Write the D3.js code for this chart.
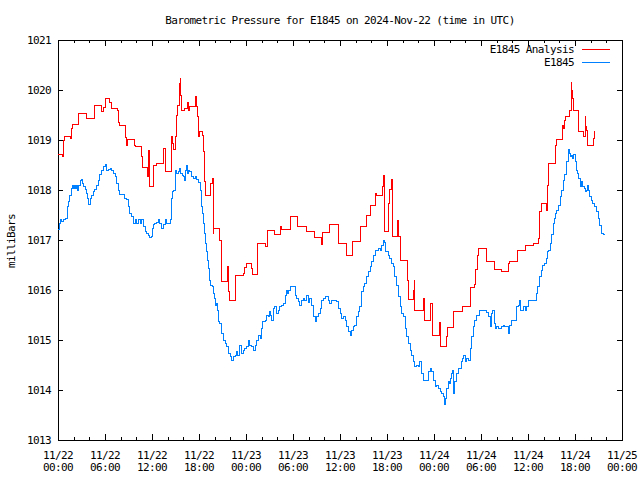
<!DOCTYPE html>
<html><head><meta charset="utf-8">
<script src="https://cdn.jsdelivr.net/npm/d3@7"></script>
<style>
html,body{margin:0;padding:0;background:#fff;}
text{font-family:"DejaVu Sans Mono",monospace;font-size:11px;letter-spacing:-0.6px;fill:#000;}
</style></head><body>
<svg id="chart" width="640" height="480"></svg>
<script>
const title = "Barometric Pressure for E1845 on 2024-Nov-22 (time in UTC)";
const yLabel = "milliBars";
const seriesNames = ["E1845 Analysis", "E1845"];
const seriesColors = ["#ff0000", "#0080ff"];
const startTime = Date.UTC(2024, 10, 22, 0, 0);
const endTime = Date.UTC(2024, 10, 25, 0, 0);
const yTicks = [1013, 1014, 1015, 1016, 1017, 1018, 1019, 1020, 1021];

// Red: analysis (hours since 11/22 00:00 UTC, mb), step series
const redHours = [0.00,0.55,0.68,0.81,1.57,1.74,1.83,2.60,3.66,4.64,5.57,5.79,6.09,6.55,6.77,7.62,7.74,7.83,8.60,8.77,8.89,9.74,9.83,10.68,10.77,11.40,11.53,11.62,11.74,12.13,12.60,13.53,13.66,13.74,14.43,14.51,14.60,14.77,15.02,15.15,15.28,15.45,15.53,15.62,15.66,15.74,16.21,16.55,16.64,16.85,17.49,17.66,17.83,17.91,18.00,18.47,18.60,18.72,18.85,19.49,19.57,19.66,19.79,19.87,20.64,20.81,20.89,21.62,21.74,21.83,22.60,22.68,23.66,23.79,24.04,24.64,24.81,25.45,26.55,26.72,27.70,28.43,28.55,29.62,30.60,31.66,32.72,33.62,33.74,34.64,35.79,36.77,37.62,38.68,39.40,39.91,40.47,40.68,41.45,41.53,41.66,42.17,42.38,42.55,42.72,43.40,43.50,43.74,44.60,44.72,45.36,45.45,45.55,46.64,46.77,47.58,47.83,48.68,48.77,49.62,49.70,50.55,51.66,52.68,53.19,53.36,53.57,53.66,54.64,55.70,56.64,57.57,57.70,58.68,59.74,60.68,61.32,61.45,61.53,61.66,62.38,62.51,62.59,63.57,63.66,64.38,64.42,64.51,64.64,64.77,65.36,65.49,65.57,65.66,65.79,65.87,66.51,67.06,67.28,67.36,67.49,67.62,68.34,68.47,68.55];
const redValues = [1018.72,1018.68,1019.00,1019.08,1019.03,1019.23,1019.31,1019.53,1019.43,1019.70,1019.58,1019.65,1019.83,1019.75,1019.63,1019.59,1019.35,1019.30,1019.05,1018.90,1019.01,1018.90,1018.88,1018.67,1018.45,1018.27,1018.79,1018.63,1018.08,1018.50,1018.53,1018.83,1018.57,1018.37,1018.53,1019.07,1018.93,1018.82,1019.07,1019.50,1019.70,1019.93,1020.13,1020.23,1019.90,1019.59,1019.63,1019.75,1019.59,1019.68,1019.87,1019.67,1019.47,1019.07,1019.17,1019.10,1018.77,1018.17,1017.90,1018.13,1018.13,1018.23,1017.13,1017.23,1016.99,1016.41,1016.17,1016.48,1015.97,1015.80,1016.08,1016.30,1016.33,1016.45,1016.53,1016.43,1016.31,1016.93,1016.87,1017.19,1017.12,1017.27,1017.21,1017.47,1017.28,1017.18,1017.05,1016.92,1017.15,1017.32,1016.93,1016.70,1016.97,1017.27,1017.50,1017.70,1017.93,1017.89,1018.07,1018.30,1017.17,1017.73,1018.01,1018.22,1017.07,1017.40,1017.07,1016.60,1016.20,1015.81,1016.00,1016.20,1015.60,1015.83,1015.40,1015.73,1015.10,1015.35,1014.88,1015.07,1015.25,1015.57,1015.68,1016.05,1016.12,1016.41,1016.70,1016.83,1016.57,1016.41,1016.38,1016.53,1016.57,1016.79,1016.89,1016.93,1017.03,1017.27,1017.57,1017.73,1017.60,1018.10,1018.53,1018.90,1019.01,1019.20,1019.30,1019.23,1019.40,1019.48,1019.60,1020.15,1020.00,1019.83,1019.75,1019.59,1019.17,1019.08,1019.47,1019.27,1019.20,1018.90,1019.03,1019.18,1019.18];

// Blue: station observations (hours since 11/22 00:00 UTC, mb)
const blueHours = [0.00,0.13,0.26,0.47,0.68,0.98,1.15,1.23,1.40,1.53,1.66,1.74,1.83,1.96,2.09,2.26,2.38,2.51,2.60,2.81,2.94,3.11,3.28,3.45,3.66,3.79,3.87,4.09,4.30,4.51,4.72,4.94,5.15,5.36,5.57,5.79,6.00,6.21,6.43,6.64,6.85,7.06,7.28,7.49,7.70,7.91,8.34,8.55,8.77,8.98,9.19,9.40,9.62,9.83,10.04,10.26,10.47,10.68,10.89,11.11,11.32,11.53,11.74,11.96,12.04,12.17,12.38,12.60,12.81,13.02,13.23,13.45,13.66,13.87,14.30,14.43,14.51,14.60,14.72,14.94,15.06,15.19,15.36,15.53,15.70,15.87,16.00,16.13,16.30,16.43,16.55,16.72,16.85,17.06,17.28,17.49,17.70,17.91,18.13,18.26,18.34,18.43,18.55,18.68,18.85,18.98,19.11,19.19,19.28,19.40,19.53,19.70,19.83,19.96,20.13,20.26,20.38,20.47,20.55,20.68,20.81,20.89,21.11,21.32,21.53,21.74,21.96,22.17,22.38,22.60,22.81,22.94,23.11,23.23,23.45,23.66,23.87,24.09,24.30,24.51,24.72,24.94,25.15,25.36,25.57,25.79,26.00,26.13,26.43,26.64,26.85,26.98,27.15,27.28,27.49,27.70,27.91,28.13,28.34,28.55,28.77,28.98,29.11,29.28,29.40,29.62,29.83,30.04,30.26,30.47,30.68,30.89,31.11,31.32,31.53,31.74,31.96,32.17,32.38,32.60,32.81,33.02,33.23,33.45,33.66,33.87,34.09,34.30,34.51,34.72,34.94,35.15,35.36,35.57,35.79,36.00,36.21,36.43,36.64,36.85,37.06,37.28,37.49,37.70,37.91,38.13,38.34,38.55,38.77,38.98,39.19,39.40,39.62,39.83,40.04,40.26,40.47,40.68,40.89,41.11,41.32,41.53,41.66,41.87,42.17,42.38,42.60,42.81,43.02,43.23,43.45,43.66,43.87,44.09,44.30,44.51,44.72,44.94,45.15,45.36,45.57,45.79,46.00,46.21,46.43,46.64,46.98,47.28,47.49,47.70,47.91,48.13,48.34,48.55,48.77,48.98,49.19,49.32,49.45,49.62,49.83,49.96,50.13,50.26,50.38,50.55,50.68,50.89,51.11,51.32,51.53,51.66,51.74,51.96,52.17,52.38,52.60,52.81,53.02,53.23,53.45,53.87,54.30,54.72,54.94,55.15,55.36,55.49,55.66,55.79,56.00,56.21,56.43,56.64,56.85,57.06,57.28,57.49,57.57,57.70,57.91,58.34,58.55,58.77,58.89,59.02,59.19,59.40,59.62,59.83,60.04,60.89,61.11,61.23,61.45,61.53,61.66,61.87,62.17,62.30,62.47,62.60,62.81,63.02,63.23,63.36,63.49,63.66,63.87,64.09,64.30,64.51,64.72,64.94,65.15,65.28,65.45,65.57,65.70,65.87,66.00,66.13,66.30,66.43,66.64,66.72,66.85,66.98,67.15,67.28,67.49,67.62,67.74,67.91,68.13,68.26,68.43,68.55,68.77,68.98,69.19,69.32,69.62,69.83];
const blueValues = [1017.21,1017.33,1017.41,1017.37,1017.41,1017.43,1017.53,1017.67,1017.77,1017.90,1017.95,1018.03,1018.10,1018.03,1018.10,1018.03,1018.10,1018.00,1018.10,1018.20,1018.21,1018.13,1018.07,1018.01,1017.93,1017.83,1017.72,1017.83,1017.90,1017.97,1018.01,1018.10,1018.20,1018.32,1018.40,1018.47,1018.51,1018.40,1018.41,1018.43,1018.39,1018.33,1018.27,1018.13,1018.00,1017.92,1017.92,1017.83,1017.81,1017.67,1017.53,1017.47,1017.33,1017.41,1017.33,1017.41,1017.33,1017.41,1017.27,1017.17,1017.13,1017.10,1017.05,1017.07,1017.23,1017.32,1017.33,1017.35,1017.41,1017.33,1017.23,1017.32,1017.41,1017.33,1017.41,1017.67,1017.83,1017.97,1018.00,1018.27,1018.40,1018.33,1018.37,1018.43,1018.33,1018.30,1018.27,1018.20,1018.40,1018.50,1018.33,1018.40,1018.37,1018.27,1018.23,1018.28,1018.21,1018.15,1018.00,1017.83,1017.67,1017.53,1017.33,1017.13,1016.93,1016.77,1016.60,1016.43,1016.30,1016.20,1016.10,1016.07,1015.93,1015.83,1015.70,1015.73,1015.60,1015.47,1015.37,1015.33,1015.20,1015.13,1015.00,1014.93,1014.87,1014.73,1014.67,1014.60,1014.67,1014.70,1014.77,1014.70,1014.80,1014.90,1014.73,1014.79,1014.83,1014.87,1014.99,1014.90,1014.87,1014.80,1014.90,1015.00,1015.10,1015.03,1015.23,1015.37,1015.40,1015.50,1015.47,1015.57,1015.50,1015.40,1015.63,1015.68,1015.53,1015.60,1015.67,1015.70,1015.73,1015.90,1016.00,1015.93,1016.00,1016.08,1016.08,1016.08,1015.90,1015.83,1015.77,1015.70,1015.80,1015.83,1015.80,1015.90,1015.75,1015.83,1015.70,1015.47,1015.37,1015.47,1015.53,1015.63,1015.80,1015.83,1015.87,1015.88,1015.80,1015.73,1015.80,1015.80,1015.80,1015.77,1015.63,1015.53,1015.43,1015.47,1015.40,1015.27,1015.17,1015.10,1015.20,1015.27,1015.30,1015.47,1015.57,1015.67,1015.97,1016.07,1016.13,1016.27,1016.37,1016.47,1016.57,1016.70,1016.80,1016.80,1016.83,1016.80,1016.90,1017.00,1016.95,1016.77,1016.70,1016.63,1016.53,1016.47,1016.27,1016.10,1015.87,1015.67,1015.53,1015.47,1015.23,1015.07,1014.93,1014.80,1014.70,1014.57,1014.47,1014.50,1014.47,1014.57,1014.33,1014.20,1014.20,1014.37,1014.43,1014.37,1014.20,1014.07,1014.10,1014.03,1013.97,1013.93,1013.88,1013.72,1013.83,1014.03,1014.17,1014.13,1014.23,1014.33,1014.40,1013.93,1014.17,1014.33,1014.43,1014.43,1014.57,1014.63,1014.70,1014.57,1014.63,1014.60,1014.83,1015.07,1015.27,1015.40,1015.50,1015.60,1015.60,1015.55,1015.47,1015.27,1015.53,1015.60,1015.33,1015.23,1015.27,1015.23,1015.23,1015.27,1015.30,1015.27,1015.27,1015.20,1015.13,1015.30,1015.40,1015.40,1015.67,1015.70,1015.80,1015.60,1015.60,1015.67,1015.60,1015.67,1015.80,1015.80,1015.93,1016.08,1016.10,1016.27,1016.40,1016.50,1016.53,1016.63,1016.77,1016.80,1016.93,1017.12,1017.33,1017.43,1017.53,1017.60,1017.70,1017.87,1018.00,1018.20,1018.32,1018.57,1018.81,1018.73,1018.67,1018.70,1018.63,1018.72,1018.57,1018.40,1018.33,1018.23,1018.13,1018.07,1018.17,1018.07,1018.03,1017.97,1018.00,1018.10,1018.00,1017.87,1017.80,1017.73,1017.70,1017.67,1017.57,1017.43,1017.30,1017.13,1017.12,1017.12];

const H = 3600 * 1000;
const red = redHours.map((h, i) => ({t: new Date(startTime + h * H), v: redValues[i]}));
const blue = blueHours.map((h, i) => ({t: new Date(startTime + h * H), v: blueValues[i]}));

const L = 58, R = 622, T = 40, B = 440;
const svg = d3.select("#chart");
const x = d3.scaleUtc().domain([new Date(startTime), new Date(endTime)]).range([L, R]);
const y = d3.scaleLinear().domain([1013, 1021]).range([B, T]);

const majorX = d3.utcHour.every(6).range(new Date(startTime), new Date(endTime + 1));
const minorX = d3.utcHour.every(2).range(new Date(startTime), new Date(endTime + 1)).filter(d => d.getUTCHours() % 6 !== 0);

const g = svg.append("g").attr("shape-rendering", "crispEdges");

// ticks (inward, mirrored)
const tickG = g.append("g").attr("stroke", "#000").attr("stroke-width", 1);
majorX.forEach(d => {
  const px = Math.round(x(d)) + 0.5;
  tickG.append("line").attr("x1", px).attr("x2", px).attr("y1", B).attr("y2", B - 6);
  tickG.append("line").attr("x1", px).attr("x2", px).attr("y1", T).attr("y2", T + 6);
});
minorX.forEach(d => {
  const px = Math.round(x(d)) + 0.5;
  tickG.append("line").attr("x1", px).attr("x2", px).attr("y1", B).attr("y2", B - 3);
  tickG.append("line").attr("x1", px).attr("x2", px).attr("y1", T).attr("y2", T + 3);
});
yTicks.forEach(v => {
  const py = Math.round(y(v)) + 0.5;
  tickG.append("line").attr("x1", L).attr("x2", L + 5).attr("y1", py).attr("y2", py);
  tickG.append("line").attr("x1", R).attr("x2", R - 5).attr("y1", py).attr("y2", py);
});

// axis labels
const fmtDate = d3.utcFormat("%m/%d"), fmtTime = d3.utcFormat("%H:%M");
majorX.forEach(d => {
  const px = x(d);
  svg.append("text").attr("x", px).attr("y", 459).attr("text-anchor", "middle").text(fmtDate(d));
  svg.append("text").attr("x", px).attr("y", 471).attr("text-anchor", "middle").text(fmtTime(d));
});
yTicks.forEach(v => {
  svg.append("text").attr("x", 51).attr("y", y(v) + 4).attr("text-anchor", "end").text(v);
});
svg.append("text").attr("transform", "translate(15,241) rotate(-90)").attr("text-anchor", "middle").text(yLabel);
svg.append("text").attr("x", 340).attr("y", 24).attr("text-anchor", "middle").text(title);

// lines
const line = d3.line().x(d => x(d.t)).y(d => y(d.v)).curve(d3.curveStepAfter);
const clip = svg.append("clipPath").attr("id", "pc").append("rect").attr("x", L).attr("y", T).attr("width", R - L).attr("height", B - T);
const lg = svg.append("g").attr("clip-path", "url(#pc)").attr("shape-rendering", "crispEdges");
lg.append("path").datum(red).attr("d", line).attr("fill", "none").attr("stroke", seriesColors[0]).attr("stroke-width", 1);
lg.append("path").datum(blue).attr("d", line).attr("fill", "none").attr("stroke", seriesColors[1]).attr("stroke-width", 1);

// frame
g.append("rect").attr("x", L + 0.5).attr("y", T + 0.5).attr("width", R - L).attr("height", B - T)
  .attr("fill", "none").attr("stroke", "#000").attr("stroke-width", 1);

// legend
seriesNames.forEach((n, i) => {
  const ly = 49 + i * 13;
  svg.append("text").attr("x", 574).attr("y", ly + 4).attr("text-anchor", "end").text(n);
  svg.append("line").attr("x1", 582).attr("x2", 610).attr("y1", ly + 0.5).attr("y2", ly + 0.5)
    .attr("stroke", seriesColors[i]).attr("stroke-width", 1).attr("shape-rendering", "crispEdges");
});
</script>
</body></html>
